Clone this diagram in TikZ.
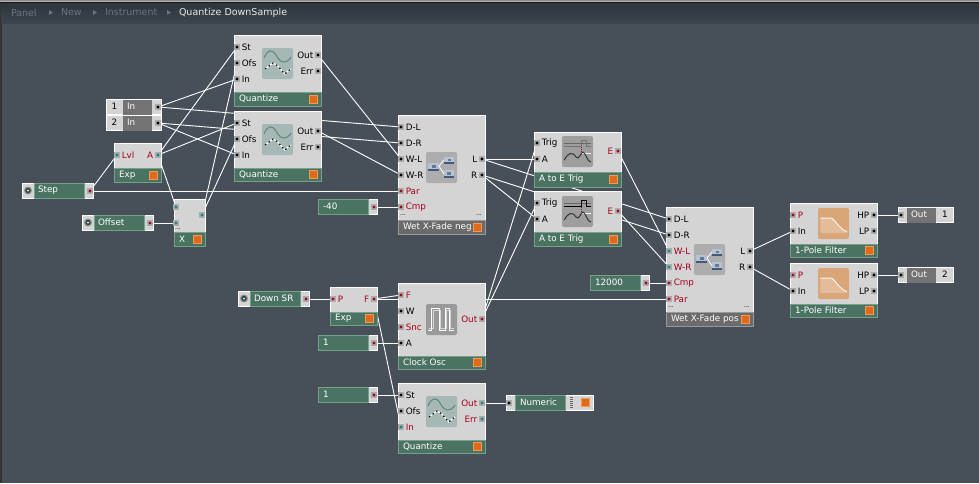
\documentclass[tikz,border=0pt]{standalone}
\usepackage{fontspec}
\setmainfont{DejaVu Sans}
\usetikzlibrary{positioning}
\pgfdeclarelayer{bg}
\pgfdeclarelayer{wires}
\pgfsetlayers{bg,wires,main}
\definecolor{panelbg}{HTML}{475059}
\definecolor{headtop}{HTML}{2E353C}
\definecolor{headbot}{HTML}{3C454E}
\definecolor{bodyc}{HTML}{D4D4D4}
\definecolor{footc}{HTML}{4A7361}
\definecolor{footl}{HTML}{76A08E}
\definecolor{darkred}{HTML}{A8001C}
\definecolor{tealc}{HTML}{0E8A8A}
\definecolor{ledc}{HTML}{DE6A1A}
\definecolor{ledl}{HTML}{F09A5A}
\definecolor{dimtxt}{HTML}{6A7580}
\definecolor{qicon}{HTML}{A5B8B5}
\definecolor{qsine}{HTML}{5F857A}
\definecolor{mixtop}{HTML}{B4C4D4}
\definecolor{mixbar}{HTML}{44597A}
\definecolor{ficon}{HTML}{D9A679}
\definecolor{fshade}{HTML}{E3BD99}
\tikzset{
    x=1pt,
    y=-1pt,
    base/.style = {
        inner sep=0,
        outer sep=0,
        font=\fontsize{8.8}{10}\selectfont
    },
    body/.style = {
        base,
        draw=white,
        fill=bodyc,
        anchor=north west,
        line width=1pt
    },
    foot/.style = {
        base,
        draw=footl,
        fill=footc,
        anchor=south west,
        line width=1pt
    },
    footgray/.style = {
        draw=gray!80,
        fill=black!58
    },
    footlabel/.style = {
        base,
        text=white,
        anchor=west
    },
    led/.style = {
        base,
        draw=ledl,
        fill=ledc,
        minimum size=8pt,
        line width=1pt
    },
    bk/.style = {
        /utils/exec=\colorlet{dotc}{black},
        text=black
    },
    rd/.style = {
        /utils/exec=\colorlet{dotc}{darkred},
        text=darkred
    },
    tl/.style = {
        /utils/exec=\colorlet{dotc}{tealc},
        text=darkred
    },
    port/.style = {
        base,
        fill=black!33,
        minimum size=6.5pt,
        path picture={\fill[dotc] (path picture bounding box.center) circle (1.6pt);}
    },
    plabel/.style = {
        base
    },
    strip/.style = {
        base,
        anchor=north west,
        minimum height=15pt
    },
    greenstrip/.style = {
        strip,
        draw=footl,
        fill=footc,
        line width=1pt
    },
    graystrip/.style = {
        strip,
        fill=black!55
    },
    lightstrip/.style = {
        strip,
        draw=white,
        fill=bodyc,
        line width=1pt
    },
    striptext/.style = {
        base,
        text=white,
        anchor=west
    },
    numtext/.style = {
        base,
        text=black
    },
    icon/.style = {
        base,
        anchor=north west,
        minimum size=31pt,
        rounded corners=2pt
    },
    crumb/.style = {
        base,
        font=\fontsize{9.5}{10}\selectfont,
        text=dimtxt,
        anchor=west
    },
    wire/.style = {
        draw=white,
        line width=.9pt
    },
}
% module body with footer, title and led
\newcommand{\modulebox}[8][]{
    \node[body, minimum width=#5pt-#3pt, minimum height=#6pt-#4pt] (#2) at (#3,#4) {};
    \node[foot, #1, minimum width=#5pt-#3pt, minimum height=#6pt-#7pt] (#2foot) at (#3,#6) {};
    \node[footlabel] (#2title) at ({#3+5},{(#6+#7)/2}) {#8};
    \node[led] (#2led) at ({#5-7.5},{(#6+#7)/2}) {};
}
\newcommand{\inport}[5][bk]{
    \node[port,#1] (#2) at (#3,#4) {};
    \node[plabel,#1,right=1.5pt of #2] (#2lab) {#5};
}
\newcommand{\outport}[5][bk]{
    \node[port,#1] (#2) at (#3,#4) {};
    \node[plabel,#1,left=1.5pt of #2] (#2lab) {#5};
}
% constant: green strip, light end with port
\newcommand{\constbox}[5]{
    \node[lightstrip, minimum width=#4pt-#2pt] (#1) at (#2,#3) {};
    \node[greenstrip, minimum width=#4pt-#2pt-9pt] (#1g) at (#2,#3) {};
    \node[striptext] (#1t) at ({#2+5},{#3+7.5}) {#5};
    \node[port,rd] (#1p) at ({#4-3},{#3+8}) {};
}
% knob: light head, green strip, light end with port
\newcommand{\knobbox}[4]{
    \node[lightstrip, minimum width=71pt] (#1) at (#2,#3) {};
    \node[greenstrip, minimum width=50pt] (#1g) at ({#2+12},#3) {};
    \node[striptext] (#1t) at ({#2+16},{#3+7.5}) {#4};
    \fill[black!45] ({#2+6},{#3+7.5}) circle (4pt);
    \fill[footc!60!black] ({#2+6},{#3+7.5}) circle (2.6pt);
    \fill[white] ({#2+6},{#3+7.5}) circle (1pt);
    \node[port,rd] (#1p) at ({#2+68},{#3+8}) {};
}
\newcommand{\quanticon}[3]{
    \begin{scope}[shift={(#2,#3)}]
        \node[icon, fill=qicon] (#1) at (0,0) {};
        \draw[qsine, line width=1pt] (2,10) .. controls (6,1) and (10,1) .. (14,7) .. controls (18,15) and (24,17) .. (29,9);
        \draw[white, line width=1.2pt] (3,21) -- (7,18) -- (11,15) -- (16,18) -- (20,23) -- (23,26) -- (26,23) -- (29,21);
        \draw[black, line width=1.2pt, dash pattern=on 1.5pt off 3pt] (3,21) -- (7,18) -- (11,15) -- (16,18) -- (20,23) -- (23,26) -- (26,23) -- (29,21);
    \end{scope}
}
\newcommand{\mixbit}[4]{
    \fill[mixtop] (#1,#2) rectangle ({#1+#3},{#2+#4});
    \fill[mixbar] (#1,{#2+#4-2}) rectangle ({#1+#3},{#2+#4});
    \fill[mixbar!70!mixtop] ({#1+3.5},{#2+2}) rectangle ({#1+#3-3.5},{#2+#4-3.5});
}
\newcommand{\mixicon}[3]{
    \begin{scope}[shift={(#2,#3)}]
        \node[icon, fill=black!32] (#1) at (0,0) {};
        \draw[white, line width=.8pt] (13,14) -- (18,8);
        \draw[white, line width=.8pt] (13,14) -- (18,22);
        \mixbit{2.3}{11}{10.7}{8}
        \mixbit{18}{5}{10}{7}
        \mixbit{17.5}{18}{10.5}{8}
    \end{scope}
}
\newcommand{\trigicon}[4]{
    \begin{scope}[shift={(#2,#3)}]
        \node[icon, fill=black!38] (#1) at (0,0) {};
        \draw[black!60, line width=.8pt] (2.3,7.5) -- (29,7.5);
        \draw[#4, line width=.8pt] (2.3,10) -- (19,10) -- (19,4) -- (24,4) -- (24,10) -- (29,10);
        \draw[darkred, line width=.8pt, dash pattern=on 1pt off 1pt] (19,11) -- (19,17);
        \draw[white, line width=.8pt] (19,17) -- (29,17);
        \draw[black!80, line width=1pt] (2.3,24) .. controls (6,17) and (10,15) .. (14,21) .. controls (17,25) and (19,16) .. (21,16) .. controls (24,17) and (25,26) .. (29,26);
    \end{scope}
}
\newcommand{\pulseicon}[3]{
    \begin{scope}[shift={(#2,#3)}]
        \node[icon, fill=black!40] (#1) at (0,0) {};
        \draw[black!15, line width=.8pt] (3,24) -- (7,24) -- (7,6) -- (14,6) -- (14,24) -- (20,24) -- (20,6) -- (24,6) -- (24,24) -- (28,24);
        \draw[white, line width=1pt] (2.3,26) -- (5.7,26) -- (5.7,4.3) -- (13,4.3) -- (13,26) -- (19,26) -- (19,4.3) -- (23,4.3) -- (23,26) -- (28,26);
    \end{scope}
}
\newcommand{\filtericon}[3]{
    \begin{scope}[shift={(#2,#3)}]
        \node[icon, fill=ficon] (#1) at (0,0) {};
        \fill[fshade] (2.3,10) -- (13.6,10) .. controls (18,13) and (22,22) .. (29,23.5) -- (29,25) -- (2.3,25) -- cycle;
        \draw[white!90!orange, line width=1pt] (2.3,10) -- (13.6,10) .. controls (18,13) and (22,22) .. (29,23.5);
    \end{scope}
}
\begin{document}
\begin{tikzpicture}
    \useasboundingbox (0,0) rectangle (979,483);

    \begin{pgfonlayer}{bg}
        \fill[panelbg] (0,0) rectangle (979,483);
        \fill[black!80] (0,0) rectangle (1.5,483);
        \fill[black!45] (0,0) rectangle (979,1);
        \fill[black!30] (0,1) rectangle (979,2);
        \fill[black!90] (0,2) rectangle (979,3);
        \shade[top color=headtop, bottom color=headbot] (1.5,3) rectangle (979,23);
    \end{pgfonlayer}

    % breadcrumb
    \node[crumb] (crpanel) at (11,12.5) {Panel};
    \node[crumb] (crnew) at (61,12.5) {New};
    \node[crumb] (crinst) at (105,12.5) {Instrument};
    \node[crumb, text=white!85!dimtxt] (crname) at (179,12.5) {Quantize DownSample};
    \foreach \xa in {49,93,167} {
        \fill[dimtxt] (\xa,10) -- (\xa+4,12.5) -- (\xa,15) -- cycle;
    }

    % quantize top
    \modulebox{qa}{234}{35}{321}{106}{92}{Quantize}
    \quanticon{qaicon}{262}{48}
    \inport{qast}{237}{47}{St}
    \inport{qaofs}{237}{63}{Ofs}
    \inport{qain}{237}{79}{In}
    \outport{qaout}{318}{55}{Out}
    \outport{qaerr}{318}{71}{Err}

    % quantize second
    \modulebox{qb}{234}{111}{321}{181}{168}{Quantize}
    \quanticon{qbicon}{262}{124}
    \inport{qbst}{237}{123}{St}
    \inport{qbofs}{237}{139}{Ofs}
    \inport{qbin}{237}{155}{In}
    \outport{qbout}{318}{131}{Out}
    \outport{qberr}{318}{147}{Err}

    % audio inputs
    \foreach \nm/\yy/\tt in {ina/99/1,inb/115/2} {
        \node[lightstrip, minimum width=55pt] (\nm) at (106,\yy) {};
        \node[graystrip, minimum width=29pt] (\nm g) at (123,\yy+.5) {};
        \node[numtext] (\nm n) at (114.5,\yy+7.5) {\tt};
        \node[striptext] (\nm t) at (127,\yy+7.5) {In};
        \node[port,bk] (\nm p) at (158,\yy+8) {};
    }

    % exp and step
    \modulebox{expa}{114}{143}{161}{182}{168}{Exp}
    \inport[tl]{lvl}{117}{155}{Lvl}
    \outport[tl]{expaa}{158}{155}{A}
    \knobbox{step}{22}{183}{Step}
    \knobbox{offset}{82}{215}{Offset}

    % multiply
    \modulebox{mul}{174}{199}{205}{246}{232}{X}
    \node[port,tl] (mula) at (176,207) {};
    \node[port,tl] (mulb) at (176,223) {};
    \node[port,tl] (mulout) at (202,215) {};
    \node[plabel] (muldots) at (178,229) {\fontsize{6}{6}\selectfont ...};

    % wet x-fade neg
    \modulebox[footgray]{neg}{398}{115}{485}{234}{220}{Wet X-Fade neg}
    \mixicon{negicon}{426}{152}
    \inport{negdl}{401}{127}{D-L}
    \inport{negdr}{401}{143}{D-R}
    \inport{negwl}{401}{159}{W-L}
    \inport{negwr}{401}{175}{W-R}
    \inport[rd]{negpar}{401}{191}{Par}
    \inport[rd]{negcmp}{401}{207}{Cmp}
    \outport{negl}{482}{159}{L}
    \outport{negr}{482}{175}{R}
    \node[plabel] (negdotsa) at (403,215) {\fontsize{6}{6}\selectfont ...};
    \node[plabel] (negdotsb) at (479,215) {\fontsize{6}{6}\selectfont ...};
    \constbox{minus}{318}{199}{377}{-40}

    % a to e
    \modulebox{tra}{534}{132}{621}{187}{172}{A to E Trig}
    \trigicon{traicon}{562}{136}{black!55}
    \inport{tratrig}{537}{143}{Trig}
    \inport{traa}{537}{159}{A}
    \outport[rd]{trae}{618}{151}{E}
    \modulebox{trb}{534}{191}{621}{246}{232}{A to E Trig}
    \trigicon{trbicon}{562}{196}{black}
    \inport{trbtrig}{537}{203}{Trig}
    \inport{trba}{537}{219}{A}
    \outport[rd]{trbe}{618}{211}{E}

    % wet x-fade pos
    \modulebox[footgray]{pos}{666}{207}{753}{326}{312}{Wet X-Fade pos}
    \mixicon{posicon}{694}{244}
    \inport{posdl}{669}{219}{D-L}
    \inport{posdr}{669}{235}{D-R}
    \inport[tl]{poswl}{669}{251}{W-L}
    \inport[tl]{poswr}{669}{267}{W-R}
    \inport[rd]{poscmp}{669}{283}{Cmp}
    \inport[rd]{pospar}{669}{299}{Par}
    \outport{posl}{750}{251}{L}
    \outport{posr}{750}{267}{R}
    \node[plabel] (posdotsa) at (671,307) {\fontsize{6}{6}\selectfont ...};
    \node[plabel] (posdotsb) at (747,307) {\fontsize{6}{6}\selectfont ...};
    \constbox{cut}{590}{275}{649}{12000}

    % filters
    \modulebox{fla}{790}{203}{877}{257}{244}{1-Pole Filter}
    \filtericon{flaicon}{818}{208}
    \inport[rd]{flap}{793}{215}{P}
    \inport{flain}{793}{231}{In}
    \outport{flahp}{874}{215}{HP}
    \outport{flalp}{874}{231}{LP}
    \modulebox{flb}{790}{263}{877}{317}{304}{1-Pole Filter}
    \filtericon{flbicon}{818}{268}
    \inport[rd]{flbp}{793}{275}{P}
    \inport{flbin}{793}{291}{In}
    \outport{flbhp}{874}{275}{HP}
    \outport{flblp}{874}{291}{LP}

    % audio outputs
    \foreach \nm/\yy/\tt in {outa/207/1,outb/267/2} {
        \node[lightstrip, minimum width=55pt] (\nm) at (898,\yy) {};
        \node[graystrip, minimum width=29pt] (\nm g) at (907,\yy+.5) {};
        \node[numtext] (\nm n) at (945,\yy+7.5) {\tt};
        \node[striptext] (\nm t) at (911,\yy+7.5) {Out};
        \node[port,bk] (\nm p) at (901,\yy+8) {};
    }

    % down sample rate
    \knobbox{down}{238}{291}{Down SR}
    \modulebox{expb}{330}{287}{377}{325}{312}{Exp}
    \inport[rd]{expbp}{333}{299}{P}
    \outport[rd]{expbf}{374}{299}{F}

    % clock
    \modulebox{clk}{398}{283}{485}{369}{356}{Clock Osc}
    \pulseicon{clkicon}{426}{304}
    \inport[rd]{clkf}{401}{295}{F}
    \inport{clkw}{401}{311}{W}
    \inport[rd]{clksnc}{401}{327}{Snc}
    \inport{clka}{401}{343}{A}
    \outport[rd]{clkout}{482}{319}{Out}
    \constbox{ampc}{318}{335}{377}{1}

    % quantize bottom
    \modulebox{qc}{398}{383}{485}{453}{440}{Quantize}
    \quanticon{qcicon}{426}{396}
    \inport{qcst}{401}{395}{St}
    \inport{qcofs}{401}{411}{Ofs}
    \inport[tl]{qcin}{401}{427}{In}
    \outport[tl]{qcout}{482}{403}{Out}
    \outport[tl]{qcerr}{482}{419}{Err}
    \constbox{stepc}{318}{387}{377}{1}

    % numeric
    \node[lightstrip, minimum width=87pt] (num) at (506,395) {};
    \node[greenstrip, minimum width=50pt] (numg) at (515,395) {};
    \node[striptext] (numt) at (520,402.5) {Numeric};
    \node[port,bk] (nump) at (509,403) {};
    \node[led] (numled) at (585.5,402.5) {};
    \foreach \yy in {397,399,...,407} {
        \fill[black!60] (570,\yy) rectangle (573,\yy+1);
    }

    \begin{pgfonlayer}{wires}
        \path[draw, wire] (inap) -- (qain);
        \path[draw, wire] (inap) -- (negdl);
        \path[draw, wire] (inbp) -- (negdr);
        \path[draw, wire] (inbp) -- (qbin);
        \path[draw, wire] (expaa) -- (qast);
        \path[draw, wire] (expaa) -- (qbst);
        \path[draw, wire] (expaa) -- (mula);
        \path[draw, wire] (mulout) -- (qaofs);
        \path[draw, wire] (mulout) -- (qbofs);
        \path[draw, wire] (stepp) -- (lvl);
        \path[draw, wire] (stepp) -- (negpar);
        \path[draw, wire] (offsetp) -- (mulb);
        \path[draw, wire] (qaout) -- (negwl);
        \path[draw, wire] (qbout) -- (negwr);
        \path[draw, wire] (minusp) -- (negcmp);
        \path[draw, wire] (negl) -- (traa);
        \path[draw, wire] (negl) -- (posdl);
        \path[draw, wire] (negr) -- (posdr);
        \path[draw, wire] (negr) -- (trba);
        \path[draw, wire] (clkout) -- (tratrig);
        \path[draw, wire] (clkout) -- (trbtrig);
        \path[draw, wire] (trae) -- (poswl);
        \path[draw, wire] (trbe) -- (poswr);
        \path[draw, wire] (cutp) -- (poscmp);
        \path[draw, wire] (expbf) -- (pospar);
        \path[draw, wire] (expbf) -- (clkf);
        \path[draw, wire] (expbf) -- (qcin);
        \path[draw, wire] (downp) -- (expbp);
        \path[draw, wire] (ampcp) -- (clka);
        \path[draw, wire] (stepcp) -- (qcst);
        \path[draw, wire] (qcout) -- (nump);
        \path[draw, wire] (posl) -- (flain);
        \path[draw, wire] (posr) -- (flbin);
        \path[draw, wire] (flahp) -- (outap);
        \path[draw, wire] (flbhp) -- (outbp);
    \end{pgfonlayer}
\end{tikzpicture}
\end{document}
